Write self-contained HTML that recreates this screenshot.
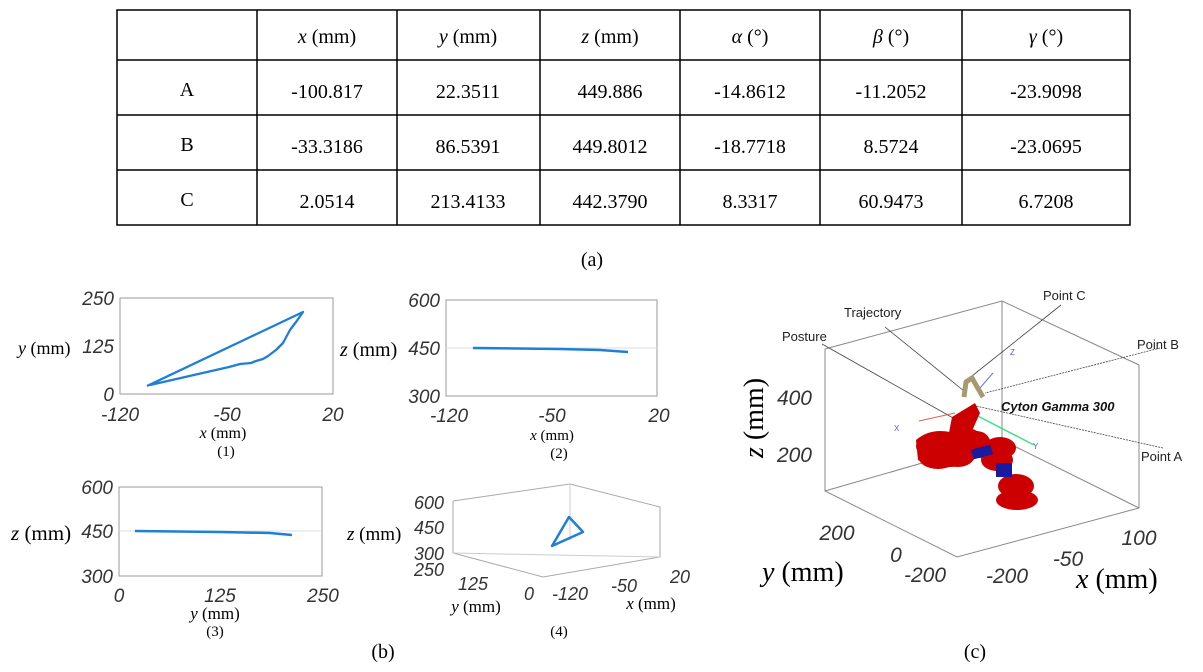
<!DOCTYPE html>
<html><head><meta charset="utf-8"><style>
body{margin:0;background:#fff;}
svg{display:block}
.t{font-family:"Liberation Serif",serif;}
.s{font-family:"Liberation Sans",sans-serif;font-style:italic;fill:#333;}
.a{font-family:"Liberation Sans",sans-serif;fill:#222;}
</style></head><body>
<svg width="1203" height="672" viewBox="0 0 1203 672" xmlns="http://www.w3.org/2000/svg">
<!-- table -->
<g stroke="#000" stroke-width="1.5" fill="none">
<rect x="117" y="10" width="1013" height="215"/>
<line x1="117" y1="60" x2="1130" y2="60"/><line x1="117" y1="115" x2="1130" y2="115"/><line x1="117" y1="170" x2="1130" y2="170"/>
<line x1="257" y1="10" x2="257" y2="225"/><line x1="397" y1="10" x2="397" y2="225"/><line x1="540" y1="10" x2="540" y2="225"/><line x1="680" y1="10" x2="680" y2="225"/><line x1="820" y1="10" x2="820" y2="225"/><line x1="962" y1="10" x2="962" y2="225"/>
</g>
<g class="t" font-size="20" text-anchor="middle" fill="#000">
<text x="327" y="43"><tspan font-style="italic">x</tspan> (mm)</text>
<text x="468" y="43"><tspan font-style="italic">y</tspan> (mm)</text>
<text x="610" y="43"><tspan font-style="italic">z</tspan> (mm)</text>
<text x="750" y="43"><tspan font-style="italic">α</tspan> (°)</text>
<text x="891" y="43"><tspan font-style="italic">β</tspan> (°)</text>
<text x="1046" y="43"><tspan font-style="italic">γ</tspan> (°)</text>
<text x="187" y="96">A</text><text x="327" y="98">-100.817</text><text x="468" y="98">22.3511</text><text x="610" y="98">449.886</text><text x="750" y="98">-14.8612</text><text x="891" y="98">-11.2052</text><text x="1046" y="98">-23.9098</text>
<text x="187" y="151">B</text><text x="327" y="153">-33.3186</text><text x="468" y="153">86.5391</text><text x="610" y="153">449.8012</text><text x="750" y="153">-18.7718</text><text x="891" y="153">8.5724</text><text x="1046" y="153">-23.0695</text>
<text x="187" y="206">C</text><text x="327" y="208">2.0514</text><text x="468" y="208">213.4133</text><text x="610" y="208">442.3790</text><text x="750" y="208">8.3317</text><text x="891" y="208">60.9473</text><text x="1046" y="208">6.7208</text>
<text x="592" y="266">(a)</text>
<text x="383" y="658">(b)</text>
<text x="975" y="658">(c)</text>
</g>
<!-- plot 1 -->
<rect x="120" y="298" width="213" height="96" fill="none" stroke="#999" stroke-width="1"/>
<g class="s" font-size="19" text-anchor="end"><text x="114" y="305">250</text><text x="114" y="353">125</text><text x="114" y="401">0</text></g>
<g class="s" font-size="19" text-anchor="middle"><text x="120" y="421">-120</text><text x="227" y="421">-50</text><text x="333" y="421">20</text></g>
<text class="t" x="18" y="354" font-size="18"><tspan font-style="italic">y</tspan> (mm)</text>
<text class="t" x="223" y="438" font-size="16" text-anchor="middle"><tspan font-style="italic">x</tspan> (mm)</text>
<text class="t" x="226" y="456" font-size="15" text-anchor="middle">(1)</text>
<polyline points="147,386 303,312 296,322 290,330 283,343 276,350 268,356 263,359 256,361 251,363 240,364 229,367 150,385" fill="none" stroke="#1e7fd6" stroke-width="2.3" stroke-linejoin="round"/>
<!-- plot 2 -->
<rect x="446" y="300" width="211" height="96" fill="none" stroke="#999"/>
<line x1="446" y1="348" x2="657" y2="348" stroke="#ddd"/>
<g class="s" font-size="19" text-anchor="end"><text x="440" y="307">600</text><text x="440" y="355">450</text><text x="440" y="403">300</text></g>
<g class="s" font-size="19" text-anchor="middle"><text x="449" y="422">-120</text><text x="552" y="422">-50</text><text x="659" y="422">20</text></g>
<text class="t" x="340" y="356" font-size="20"><tspan font-style="italic">z</tspan> (mm)</text>
<text class="t" x="552" y="440" font-size="15" text-anchor="middle"><tspan font-style="italic">x</tspan> (mm)</text>
<text class="t" x="559" y="458" font-size="15" text-anchor="middle">(2)</text>
<polyline points="473,348 560,349 600,350 628,352" fill="none" stroke="#1e7fd6" stroke-width="2.5"/>
<!-- plot 3 -->
<rect x="119" y="487" width="203" height="89" fill="none" stroke="#999"/>
<line x1="119" y1="531" x2="322" y2="531" stroke="#ddd"/>
<g class="s" font-size="19" text-anchor="end"><text x="113" y="494">600</text><text x="113" y="538">450</text><text x="113" y="583">300</text></g>
<g class="s" font-size="19" text-anchor="middle"><text x="119" y="602">0</text><text x="220" y="602">125</text><text x="323" y="602">250</text></g>
<text class="t" x="11" y="540" font-size="21"><tspan font-style="italic">z</tspan> (mm)</text>
<text class="t" x="215" y="619" font-size="17" text-anchor="middle"><tspan font-style="italic">y</tspan> (mm)</text>
<text class="t" x="215" y="636" font-size="15" text-anchor="middle">(3)</text>
<polyline points="135,531 220,532 270,533 292,535" fill="none" stroke="#1e7fd6" stroke-width="2.5"/>
<!-- plot 4 -->
<g fill="none" stroke="#aaa">
<polyline points="453,501 570,484 660,507 660,557 543,577 453,553 453,501"/>
<line x1="570" y1="484" x2="570" y2="540" stroke="#ccc"/>
<line x1="453" y1="553" x2="660" y2="557" stroke="#ccc"/>
</g>
<g class="s" font-size="18" text-anchor="end"><text x="444" y="509">600</text><text x="444" y="534">450</text><text x="444" y="560">300</text><text x="444" y="576">250</text></g>
<g class="s" font-size="18" text-anchor="middle"><text x="473" y="590">125</text><text x="529" y="600">0</text><text x="570" y="600">-120</text><text x="624" y="592">-50</text><text x="680" y="583">20</text></g>
<text class="t" x="347" y="540" font-size="19"><tspan font-style="italic">z</tspan> (mm)</text>
<text class="t" x="476" y="612" font-size="17" text-anchor="middle"><tspan font-style="italic">y</tspan> (mm)</text>
<text class="t" x="651" y="609" font-size="17" text-anchor="middle"><tspan font-style="italic">x</tspan> (mm)</text>
<text class="t" x="559" y="636" font-size="15" text-anchor="middle">(4)</text>
<polygon points="569,517 583,532 552,546" fill="none" stroke="#1e7fd6" stroke-width="2.5" stroke-linejoin="round"/>
<!-- plot c -->
<g fill="none" stroke="#888" stroke-width="1">
<polyline points="825,349 1002,301 1139,365 1139,508 957,557 825,491 825,349"/>
<line x1="1002" y1="301" x2="1002" y2="440"/>
<line x1="825" y1="491" x2="1002" y2="440"/>
<line x1="1002" y1="440" x2="1139" y2="508"/>
</g>
<g stroke="#444" stroke-width="0.8" fill="none">
<line x1="822" y1="344" x2="962" y2="423"/>
<line x1="885" y1="327" x2="964" y2="391"/>
<line x1="1061" y1="305" x2="972" y2="376"/>
<line x1="1160" y1="348" x2="985" y2="393" stroke-dasharray="2,1"/>
<line x1="1163" y1="448" x2="976" y2="406" stroke-dasharray="2,1"/>
</g>
<line x1="919" y1="421" x2="955" y2="413" stroke="#e0604a"/>
<line x1="972" y1="413" x2="1034" y2="445" stroke="#3de08a" stroke-width="1.5"/>
<line x1="980" y1="388" x2="993" y2="373" stroke="#6a6aff"/>
<g font-family="Liberation Sans,sans-serif" font-size="8" fill="#55f"><text x="894" y="431">X</text><text x="1033" y="449">Y</text><text x="1010" y="355">Z</text></g>
<polyline points="964,397 966,382 972,378 976,385 983,397" fill="none" stroke="#a89a70" stroke-width="5" stroke-linejoin="round"/>
<g fill="#c00">
<path d="M952,417 L975,403 L980,413 L968,440 L948,438Z"/>
<path d="M916,440 Q930,428 950,432 L965,430 Q972,440 968,452 L960,466 Q935,470 918,460Z"/>
<ellipse cx="934" cy="446" rx="18" ry="12"/><ellipse cx="938" cy="458" rx="19" ry="11"/><ellipse cx="958" cy="455" rx="17" ry="12"/><ellipse cx="966" cy="438" rx="15" ry="10"/>
<path d="M968,432 Q985,428 990,440 L988,458 L972,458Z"/>
<ellipse cx="1000" cy="448" rx="16" ry="11"/><ellipse cx="997" cy="460" rx="16" ry="11"/>
<ellipse cx="1016" cy="486" rx="18" ry="12"/><ellipse cx="1017" cy="500" rx="21" ry="10"/>
</g>
<g fill="#1a1aa0"><rect x="972" y="447" width="20" height="10" transform="rotate(-15 982 452)"/><rect x="996" y="463" width="16" height="14"/></g>
<g class="a" font-size="13"><text x="782" y="341">Posture</text><text x="844" y="317">Trajectory</text><text x="1043" y="300">Point C</text><text x="1137" y="349">Point B</text><text x="1141" y="461">Point A</text></g>
<text x="1001" y="411" font-family="Liberation Sans,sans-serif" font-size="13" font-weight="bold" font-style="italic" fill="#111">Cyton Gamma 300</text>
<g class="s" font-size="21" text-anchor="end"><text x="812" y="405">400</text><text x="812" y="462">200</text></g>
<g class="s" font-size="21" text-anchor="middle"><text x="837" y="540">200</text><text x="896" y="562">0</text><text x="925" y="582">-200</text><text x="1007" y="583">-200</text><text x="1068" y="566">-50</text><text x="1139" y="545">100</text></g>
<text class="t" font-size="28" transform="translate(763,458) rotate(-90)"><tspan font-style="italic">z</tspan> (mm)</text>
<text class="t" x="762" y="581" font-size="28"><tspan font-style="italic">y</tspan> (mm)</text>
<text class="t" x="1076" y="588" font-size="28"><tspan font-style="italic">x</tspan> (mm)</text>
</svg>
</body></html>
